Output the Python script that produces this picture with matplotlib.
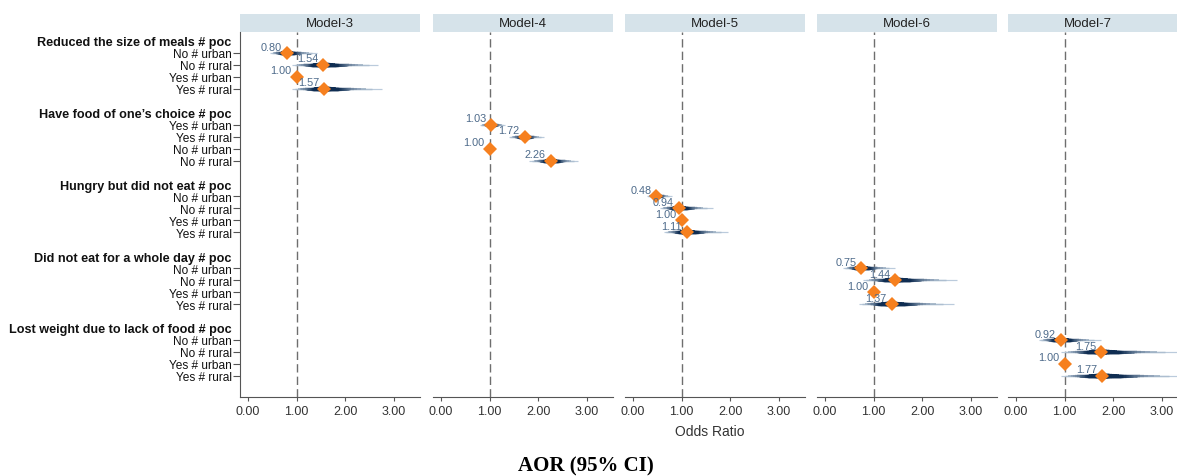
"""Odds ratio coefplot, one panel per model."""

import matplotlib
matplotlib.use("Agg")

import numpy as np
import matplotlib.pyplot as plt
from matplotlib.patches import Rectangle
from matplotlib.colors import to_rgb
from statistics import NormalDist

plt.rcParams["font.family"] = ["Liberation Sans", "DejaVu Sans"]

# ---- data -------------------------------------------------------------
models = ["Model-3", "Model-4", "Model-5", "Model-6", "Model-7"]

groups = [
    "Reduced the size of meals # poc",
    "Have food of one\u2019s choice # poc",
    "Hungry but did not eat # poc",
    "Did not eat for a whole day # poc",
    "Lost weight due to lack of food # poc",
]

row_labels = [
    ["No # urban", "No # rural", "Yes # urban", "Yes # rural"],
    ["Yes # urban", "Yes # rural", "No # urban", "No # rural"],
    ["No # urban", "No # rural", "Yes # urban", "Yes # rural"],
    ["No # urban", "No # rural", "Yes # urban", "Yes # rural"],
    ["No # urban", "No # rural", "Yes # urban", "Yes # rural"],
]

aor = [
    [0.80, 1.54, 1.00, 1.57],
    [1.03, 1.72, 1.00, 2.26],
    [0.48, 0.94, 1.00, 1.11],
    [0.75, 1.44, 1.00, 1.37],
    [0.92, 1.75, 1.00, 1.77],
]

# 95% CI bounds (None = reference category)
ci_lo = [
    [0.45, 0.90, None, 0.90],
    [0.80, 1.39, None, 1.82],
    [0.29, 0.55, None, 0.63],
    [0.38, 0.78, None, 0.70],
    [0.48, 0.93, None, 0.93],
]
ci_hi = [
    [1.42, 2.67, None, 2.75],
    [1.32, 2.11, None, 2.81],
    [0.80, 1.64, None, 1.95],
    [1.45, 2.71, None, 2.65],
    [1.74, 3.35, None, 3.45],
]

xticks = [0, 1, 2, 3]

# ---- styling ----------------------------------------------------------
W, H = 1177, 477
ORANGE = "#f6801f"
LABEL_BLUE = "#4d6a8a"
DARK = np.array(to_rgb("#0f2d52"))
LIGHT = np.array(to_rgb("#cddcea"))
STRIP = "#d6e3ea"
AXIS_GREY = "#555555"

panel_left = [240, 433, 625, 817, 1008]
panel_w = 180
ax_top, ax_bot = 33, 398
strip_h = 18

SLOTS = 6  # header + 4 rows + blank

fig = plt.figure(figsize=(W / 100, H / 100), dpi=100)

levels = np.linspace(95, 3, 24)
nd = NormalDist()
z95 = nd.inv_cdf(0.975)

axes = []
for m, name in enumerate(models):
    ax = fig.add_axes([panel_left[m] / W, 1 - ax_bot / H,
                       panel_w / W, (ax_bot - ax_top) / H])
    axes.append(ax)
    ax.set_xlim(-0.165, 3.54)
    ax.set_ylim(29.77, -0.75)

    # reference line at OR = 1
    ax.axvline(1, color="#6e6e6e", lw=1.0, ls=(0, (6, 3)), zorder=1)

    g = m
    for r in range(4):
        y = g * SLOTS + 1 + r
        val = aor[g][r]
        lo, hi = ci_lo[g][r], ci_hi[g][r]
        if lo is not None:
            c = (np.log(lo) + np.log(hi)) / 2
            se = (np.log(hi) - np.log(lo)) / (2 * z95)
            for lev in levels:
                z = nd.inv_cdf(0.5 + lev / 200)
                t = 1 - lev / 100
                col = LIGHT + (DARK - LIGHT) * min(1.0, t * 1.9)
                ax.plot([np.exp(c - z * se), np.exp(c + z * se)], [y, y],
                        color=col, lw=0.6 + 3.0 * t ** 0.8,
                        solid_capstyle="butt", zorder=2, clip_on=True)
        ax.plot(val, y, marker="D", color=ORANGE, markersize=7.3,
                markeredgewidth=0, zorder=4)
        ax.annotate(f"{val:.2f}", (val, y), xytext=(-3.5, 1),
                    textcoords="offset points", ha="right", va="bottom",
                    fontsize=7.8, color=LABEL_BLUE, zorder=5)

    # strip header
    ax.add_patch(Rectangle((0, 1), 1, strip_h / (ax_bot - ax_top),
                           transform=ax.transAxes, facecolor=STRIP,
                           edgecolor="none", clip_on=False))
    tx = 0.5 if m < len(models) - 1 else 0.445
    ax.text(tx, 1 + strip_h / 2 / (ax_bot - ax_top), name,
            transform=ax.transAxes, ha="center", va="center",
            fontsize=9.5, color="#222222")

    ax.set_xticks(xticks)
    ax.set_xticklabels([f"{v:.2f}" for v in xticks])
    ax.tick_params(axis="x", length=3, width=0.8, color=AXIS_GREY,
                   labelsize=9, labelcolor="#333333", pad=3)
    for s in ["top", "right"]:
        ax.spines[s].set_visible(False)
    ax.spines["bottom"].set_color(AXIS_GREY)
    ax.spines["bottom"].set_linewidth(0.8)

    if m == 0:
        ypos, ylabs, is_head = [], [], []
        for gi, gname in enumerate(groups):
            ypos.append(gi * SLOTS)
            ylabs.append(gname)
            is_head.append(True)
            for r, lab in enumerate(row_labels[gi]):
                ypos.append(gi * SLOTS + 1 + r)
                ylabs.append(lab)
                is_head.append(False)
        ax.set_yticks(ypos)
        ax.set_yticklabels(ylabs)
        ax.tick_params(axis="y", length=5, width=0.8, color=AXIS_GREY,
                       labelsize=8.6, labelcolor="#111111", pad=1)
        for tick, lab, head in zip(ax.yaxis.get_major_ticks(),
                                   ax.get_yticklabels(), is_head):
            if head:
                tick.tick1line.set_visible(False)
                lab.set_fontweight("bold")
                lab.set_fontsize(9.1)
        ax.spines["left"].set_color(AXIS_GREY)
        ax.spines["left"].set_linewidth(0.8)
    else:
        ax.set_yticks([])
        ax.spines["left"].set_visible(False)

fig.text(710 / W, 1 - 432 / H, "Odds Ratio", ha="center", va="center",
         fontsize=10, color="#333333")
fig.text(586 / W, 1 - 466 / H, "AOR (95% CI)", ha="center", va="center",
         fontsize=15, fontweight="bold", family="Liberation Serif")

fig.savefig("out.png", dpi=100, facecolor="white")
